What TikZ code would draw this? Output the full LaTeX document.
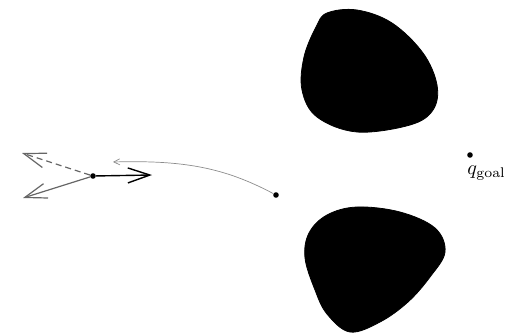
\documentclass[tikz,border=0pt]{standalone}
\usepackage{amsmath}
\usetikzlibrary{arrows.meta}
\tikzset{
  dotn/.style ={circle,fill=black,inner sep=0pt,minimum size=2.8pt},
  obst/.style ={fill=black,draw=black},
  vec/.style  ={-{Straight Barb[length=11pt,width=7.5pt]},line width=0.7pt},
  vecg/.style ={vec,draw=black!60,line width=0.6pt},
  traj/.style ={-{Straight Barb[length=3pt,width=3pt]},draw=black!45,line width=0.35pt},
  lbl/.style  ={font=\normalsize,inner sep=1pt},
}
\begin{document}
\begin{tikzpicture}[x=0.5pt,y=-0.5pt]
\useasboundingbox (0,0) rectangle (514,333);

% ---------------- obstacles -----------------------------------------------
\fill[obst] plot[smooth cycle,tension=0.6] coordinates {
  (327,13) (357,10) (392,23) (423,53) (437,85) (433,110)
  (410,125) (357,132) (317,117) (302,90) (304,57) (316,27)};
\fill[obst] plot[smooth cycle,tension=0.6] coordinates {
  (327,215) (357,207) (400,212) (435,228) (445,252) (430,277)
  (408,302) (380,322) (350,332) (327,314) (315,290) (305,258) (309,233)};

% ---------------- robot and velocities ------------------------------------
\node[dotn] (rob) at (93,176) {};
\coordinate (vF) at (152,175);
\coordinate (vU) at (22,153);
\coordinate (vD) at (23,198);
\draw[vec] (rob) -- (vF);
\draw[vecg,densely dashed] (rob) -- (vU);
\draw[vecg] (rob) -- (vD);

% ---------------- trajectory ----------------------------------------------
\node[dotn] (qs) at (276,195) {};
\coordinate (tEnd) at (113,162);
\draw[traj] (qs) .. controls (225,168) and (185,160) .. (tEnd);

% ---------------- goal ----------------------------------------------------
\node[dotn] (goal) at (470,155) {};
\node[lbl,anchor=north west] (goalLbl) at (465,163) {$q_{\text{goal}}$};
\end{tikzpicture}
\end{document}
